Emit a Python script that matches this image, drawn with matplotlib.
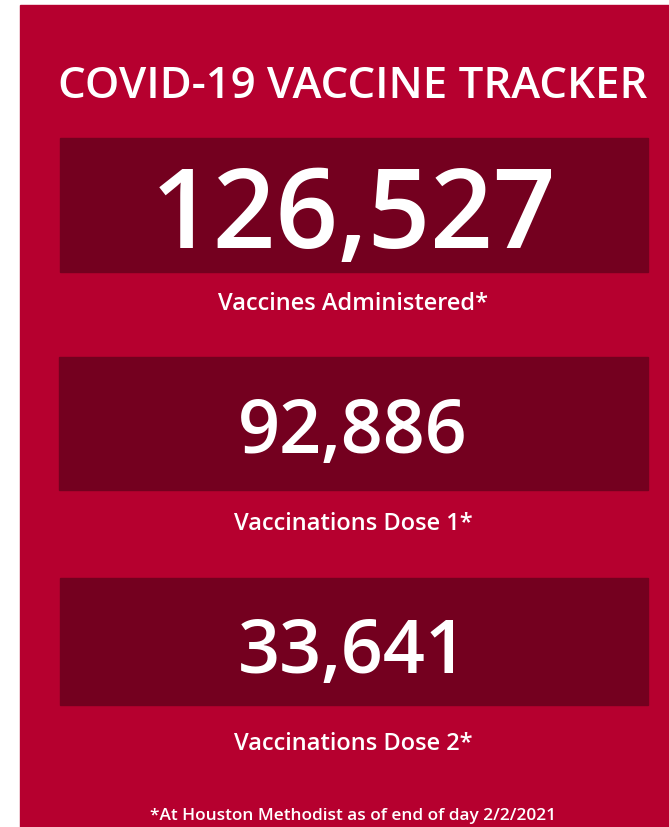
import matplotlib
matplotlib.use("Agg")
import matplotlib.pyplot as plt
from matplotlib.patches import Rectangle

title = "COVID-19 VACCINE TRACKER"
values = [126527, 92886, 33641]
labels = ["Vaccines Administered*", "Vaccinations Dose 1*", "Vaccinations Dose 2*"]
footnote = "*At Houston Methodist as of end of day 2/2/2021"

W, H = 669, 827
fig = plt.figure(figsize=(W / 100, H / 100), dpi=100)
ax = fig.add_axes([0, 0, 1, 1])
ax.set_xlim(0, W)
ax.set_ylim(H, 0)
ax.axis("off")
fig.patch.set_facecolor("white")

bg = "#B6002F"
box = "#74001F"
ax.add_patch(Rectangle((20, 5), W - 20, H - 5, color=bg, zorder=0))

boxes = [(60, 138, 588, 134), (59, 357, 589, 133), (60, 578, 588, 127)]
num_base = [248, 453, 673]
num_size = [79, 53, 53]
lab_base = [310, 530, 750]

font = "Open Sans"
ax.text(353, 98, title, color="white", fontsize=31.5, fontweight="semibold",
        family=font, ha="center", va="baseline")

for (x, y, w, h), v, nb, ns, lab, lb in zip(boxes, values, num_base, num_size, labels, lab_base):
    ax.add_patch(Rectangle((x, y), w, h, color=box, zorder=1))
    ax.text(353, nb, f"{v:,}", color="white", fontsize=ns, fontweight="semibold",
            family=font, ha="center", va="baseline", zorder=2)
    ax.text(353, lb, lab, color="white", fontsize=17, fontweight="semibold",
            family=font, ha="center", va="baseline", zorder=2)

ax.text(353, 820, footnote, color="white", fontsize=12.4, fontweight="semibold",
        family=font, ha="center", va="baseline")

fig.savefig("out.png", dpi=100, facecolor="white")
